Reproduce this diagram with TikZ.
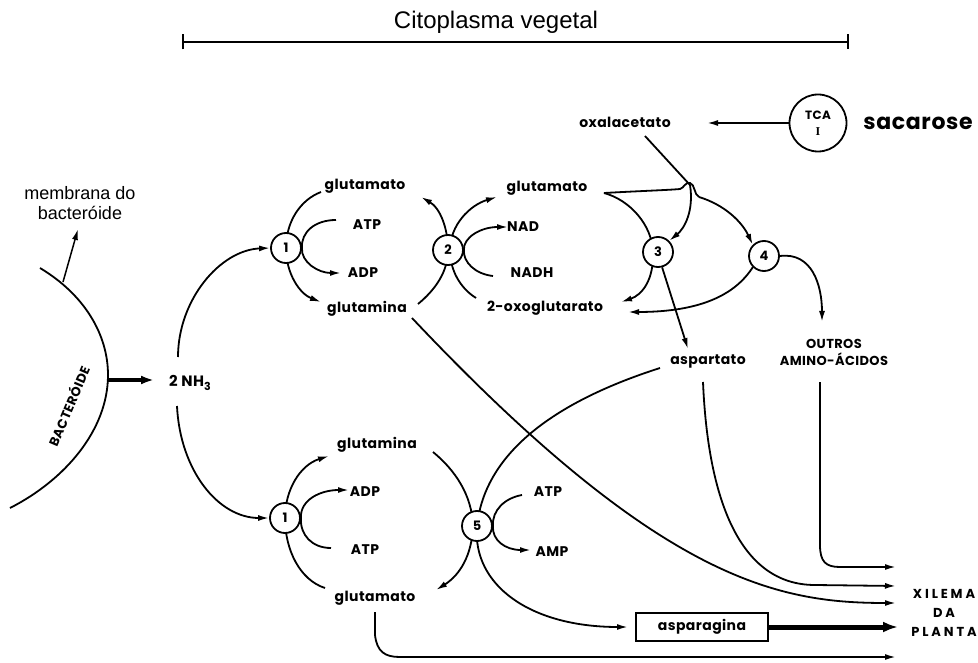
\documentclass[tikz,border=0pt]{standalone}
\usepackage{fontspec}
\setmainfont{Liberation Sans}
\newfontfamily\lab{Poppins}[LetterSpace=3]
\newfontfamily\labw{Poppins}[LetterSpace=22]
\usetikzlibrary{arrows.meta,backgrounds}
\tikzset{
  ln/.style={line width=1.8pt},
  arr/.style={ln,-{Latex[length=11pt,width=6pt]}},
  enz/.style={circle,draw,line width=1.8pt,fill=white,minimum size=30pt,inner sep=0pt,
    font=\lab\bfseries\fontsize{13}{14}\selectfont},
  lbl/.style={inner sep=1pt,font=\lab\bfseries\fontsize{14}{16}\selectfont},
  wide/.style={inner sep=1pt,align=center,font=\labw\bfseries\fontsize{13}{19}\selectfont},
}
\begin{document}
\begin{tikzpicture}[x=1pt,y=-1pt]
\useasboundingbox (0,0) rectangle (978,663);
% title and bar
\node[font=\fontsize{24}{26}\selectfont] (title) at (496,22) {Citoplasma vegetal};
\coordinate (barL) at (182,42);
\coordinate (barR) at (849,42);
\draw[line width=1.8pt,{Bar[width=15pt]}-{Bar[width=15pt]}] (barL) -- (barR);
% bacteroid
\coordinate (bA) at (40,268);
\coordinate (bM) at (108,375);
\coordinate (bB) at (10,508);
\coordinate (mem) at (63,282);
\coordinate (memtip) at (78,229);
\node[align=center,font=\fontsize{18}{20}\selectfont] (memlbl) at (80,203) {membrana do\\bacteróide};
\node[rotate=67,inner sep=0pt,font=\lab\bfseries\fontsize{13}{14}\selectfont] (bact) at (68,406) {BACTERÓIDE};
\node[lbl,font=\lab\bfseries\fontsize{15}{17}\selectfont] (nh3) at (190,383) {2 NH\raisebox{-0.45ex}{\fontsize{11}{11}\selectfont 3}};
% enzymes
\node[enz] (c1a) at (286,248) {1};
\node[enz] (c2) at (448,250) {2};
\node[enz] (c3) at (658,252) {3};
\node[enz] (c4) at (764,256) {4};
\node[enz] (c1b) at (285,518) {1};
\node[enz] (c5) at (477,526) {5};
\node[circle,draw,line width=1.8pt,minimum size=57pt,inner sep=0pt,align=center,
  font=\lab\bfseries\fontsize{12}{16}\selectfont] (tca) at (818,123) {TCA\\{\fontspec{Liberation Serif}\bfseries I}};
% labels
\node[lbl] (gluA) at (365,186) {glutamato};
\node[lbl] (atpA) at (367,225) {ATP};
\node[lbl] (adpA) at (363,273) {ADP};
\node[lbl] (glnA) at (367,309) {glutamina};
\node[lbl] (gluB) at (547,188) {glutamato};
\node[lbl] (nad) at (523,227) {NAD};
\node[lbl] (nadh) at (532,273) {NADH};
\node[lbl] (oxo) at (545,308) {2-oxoglutarato};
\node[lbl] (oxa) at (625,122) {oxalacetato};
\node[inner sep=1pt,font=\lab\bfseries\fontsize{22}{24}\selectfont] (sac) at (918,123) {sacarose};
\node[lbl] (asp) at (708,362) {aspartato};
\node[lbl,align=center,font=\lab\bfseries\fontsize{13}{17}\selectfont] (outros) at (834,352) {OUTROS\\AMINO-ÁCIDOS};
\node[lbl] (glnB) at (377,445) {glutamina};
\node[lbl] (adpB) at (365,492) {ADP};
\node[lbl] (atpB) at (365,550) {ATP};
\node[lbl] (gluC) at (375,598) {glutamato};
\node[lbl] (atpC) at (548,492) {ATP};
\node[lbl] (amp) at (552,552) {AMP};
\node[lbl,draw,line width=1.5pt,minimum width=132pt,minimum height=28pt] (aspg) at (702,627) {asparagina};
\node[wide] (xil) at (944,613) {XILEMA\\DA\\PLANTA};
% free ends
\coordinate (jn) at (690,185);
\coordinate (oxs) at (645,136);
\begin{scope}[on background layer]
\fill[white] (0,0) rectangle (978,663);
% membrane
\draw[ln] (bA) .. controls (85,295) and (108,335) .. (bM) .. controls (108,430) and (65,480) .. (bB);
\draw[arr,line width=1.5pt] (mem) -- (memtip);
\draw[line width=3.5pt,-{Latex[length=13pt,width=9pt]}] (108,380) -- (154,380);
% NH3 -> GS
\draw[arr] (178,357) .. controls (178,300) and (220,250) .. (c1a.west);
\draw[arr] (177,406) .. controls (180,470) and (218,518) .. (c1b.west);
% GS top
\draw[arr] (321,192) .. controls (300,200) and (286,222) .. (c1a.center) .. controls (286,274) and (300,294) .. (321,302);
\draw[arr] (336,220) .. controls (315,220) and (301,232) .. (c1a.east) .. controls (301,262) and (318,273) .. (341,273);
% GOGAT
\draw[arr] (418,304) .. controls (435,290) and (448,272) .. (c2.center) .. controls (448,228) and (440,208) .. (421,197);
\draw[arr] (476,298) .. controls (460,288) and (450,270) .. (450,250) .. controls (450,225) and (470,205) .. (497,197);
\draw[arr] (493,276) .. controls (475,274) and (463,262) .. (c2.east) .. controls (463,238) and (480,227) .. (508,227);
% AAT
\draw[arr] (604,193) .. controls (630,200) and (652,225) .. (653,252) .. controls (654,280) and (642,295) .. (621,302);
\draw[ln] (604,193) .. controls (640,191) and (670,190) .. (680,189) .. controls (684,188) and (685,182) .. (690,183) .. controls (695,184) and (694,195) .. (699,197);
\draw[arr] (699,197) .. controls (725,205) and (742,222) .. (c4.north west);
\draw[ln] (oxs) -- (jn);
\draw[arr] (jn) .. controls (694,210) and (685,228) .. (c3.north east);
\draw[arr] (c3.-75) -- (688,349);
\draw[arr] (c4.south west) .. controls (735,295) and (700,312) .. (628,312);
\draw[arr] (c4.east) .. controls (812,252) and (822,285) .. (822,322);
% TCA
\draw[arr] (tca.west) -- (707,123);
% GS bottom
\draw[arr] (325,588) .. controls (300,580) and (285,550) .. (c1b.center) .. controls (285,490) and (300,465) .. (329,456);
\draw[arr] (331,548) .. controls (312,548) and (300,535) .. (c1b.east) .. controls (300,500) and (320,490) .. (349,490);
% AS
\draw[arr] (433,452) .. controls (455,470) and (472,495) .. (473,526) .. controls (472,555) and (460,575) .. (436,590);
\draw[arr] (660,368) .. controls (560,400) and (485,450) .. (c5.center) .. controls (472,585) and (530,627) .. (628,627);
\draw[arr] (522,495) .. controls (505,498) and (492,510) .. (c5.east) .. controls (492,540) and (505,550) .. (531,550);
% to xylem
\draw[arr] (820,382) -- (820,545) .. controls (820,562) and (826,567) .. (840,567) -- (896,567);
\draw[arr] (703,382) .. controls (708,500) and (740,585) .. (815,585) -- (896,586);
\draw[arr] (412,318) .. controls (662,583) and (780,603) .. (896,603);
\draw[line width=5pt,-{Latex[length=15pt,width=11pt]}] (aspg.east) -- (898,627);
\draw[arr] (375,612) -- (375,635) .. controls (377,652) and (385,657) .. (400,657) -- (896,657);
\end{scope}
\end{tikzpicture}
\end{document}
